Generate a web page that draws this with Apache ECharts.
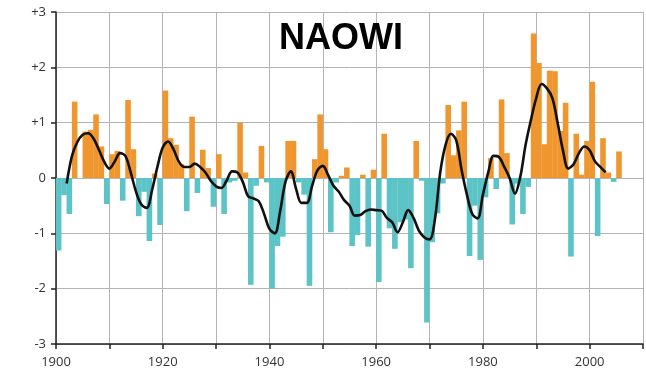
<!DOCTYPE html>
<html>
<head>
<meta charset="utf-8">
<script src="https://cdn.jsdelivr.net/npm/echarts@6/dist/echarts.min.js"></script>
<style>
    html, body {margin: 0; padding: 0; background: #fff;}
    #chart {width: 646px; height: 378px;}
</style>
</head>
<body>
<div id="chart"></div>
<script>
// winter NAO index, one bar per year from 1900
var firstYear = 1900;
var naoValues = [
    -1.31, -0.31, -0.65, 1.38, 0.0, 0.84, 0.87, 1.15, 0.57, -0.47,
    0.43, 0.49, -0.41, 1.41, 0.52, -0.69, -0.25, -1.14, 0.08, -0.85,
    1.58, 0.72, 0.6, 0.25, -0.6, 1.11, -0.27, 0.51, 0.18, -0.52,
    0.43, -0.65, -0.08, -0.05, 1.0, 0.1, -1.93, -0.14, 0.58, -0.08,
    -2.0, -1.23, -1.06, 0.67, 0.67, -0.08, -0.3, -1.95, 0.34, 1.15,
    0.52, -0.98, -0.08, 0.04, 0.19, -1.23, -1.03, 0.06, -1.24, 0.15,
    -1.88, 0.8, -0.91, -1.28, -0.8, -0.75, -1.63, 0.67, -0.05, -2.61,
    -1.16, -0.64, -0.1, 1.32, 0.41, 0.86, 1.38, -1.41, -0.5, -1.48,
    -0.35, 0.36, -0.2, 1.42, 0.45, -0.84, -0.1, -0.65, -0.16, 2.61,
    2.08, 0.61, 1.94, 1.93, 0.85, 1.36, -1.42, 0.8, 0.06, 0.67,
    1.74, -1.05, 0.72, 0.1, -0.07, 0.48
];
// smoothed curve, starts 1902
var smoothStart = 1902;
var smoothValues = [
    -0.1, 0.4, 0.65, 0.78, 0.81, 0.72, 0.52, 0.3,
    0.17, 0.3, 0.45, 0.4, 0.1, -0.25, -0.48, -0.54, -0.22, 0.2,
    0.55, 0.66, 0.52, 0.3, 0.2, 0.2, 0.26, 0.2, 0.1, -0.05,
    -0.15, -0.18, -0.04, 0.12, 0.1, -0.07, -0.33, -0.37, -0.42, -0.65,
    -0.92, -1.0, -0.6, -0.07, 0.12, -0.2, -0.45, -0.45, -0.14, 0.14,
    0.22, 0.05, -0.14, -0.25, -0.4, -0.5, -0.68, -0.67, -0.6, -0.57,
    -0.58, -0.59, -0.72, -0.8, -0.98, -0.8, -0.58, -0.72, -0.95, -1.07,
    -1.11, -0.75, 0.1, 0.6, 0.8, 0.68, 0.15, -0.3, -0.65, -0.73,
    -0.3, 0.1, 0.4, 0.38, 0.2, 0.0, -0.28, 0.02, 0.6, 1.05,
    1.45, 1.7, 1.62, 1.45, 1.0, 0.5, 0.17, 0.25, 0.45, 0.57,
    0.5, 0.3, 0.2, 0.1
];
var yTicks = ['-3', '-2', '-1', '0', '+1', '+2', '+3'];

var orange = '#f0962f';
var teal = '#5cc4c6';

// bar of a year fills [year, year+1]
var barData = naoValues.map(function (v, i) {
    return {
        value: [firstYear + i + 0.5, v],
        itemStyle: {color: v >= 0 ? orange : teal}
    };
});
var lineData = smoothValues.map(function (v, i) {
    return [smoothStart + i, v];
});

var chart = echarts.init(document.getElementById('chart'));
var option = {
    animation: false,
    title: {
        text: 'NAOWI',
        left: 341,
        top: 21,
        textAlign: 'center',
        padding: 0,
        textStyle: {
            color: '#000',
            fontSize: 36,
            fontWeight: 'bold',
            fontFamily: 'Liberation Sans'
        }
    },
    grid: {left: 56, right: -20, top: 12, bottom: 34},
    xAxis: {
        type: 'value',
        min: 1900,
        max: 2010,
        interval: 10,
        axisLine: {onZero: false, lineStyle: {color: '#222', width: 1.5}},
        axisTick: {length: 5, lineStyle: {color: '#222', width: 1.5}},
        axisLabel: {
            margin: 12,
            color: '#333',
            fontSize: 13,
            fontFamily: 'Open Sans',
            formatter: function (v) {
                return v % 20 === 0 ? String(v) : '';
            }
        },
        splitLine: {show: true, lineStyle: {color: '#b4b4b4', width: 1}}
    },
    yAxis: {
        type: 'value',
        min: -3,
        max: 3,
        interval: 1,
        axisLine: {show: true, onZero: false, lineStyle: {color: '#222', width: 1.5}},
        axisTick: {show: true, length: 5, lineStyle: {color: '#222', width: 1.5}},
        axisLabel: {
            margin: 10,
            color: '#333',
            fontSize: 13,
            fontFamily: 'Open Sans',
            formatter: function (v) {
                return yTicks[v + 3];
            }
        },
        splitLine: {show: true, lineStyle: {color: '#b4b4b4', width: 1}}
    },
    series: [
        {
            name: 'NAO',
            type: 'bar',
            barWidth: 5.6,
            data: barData
        },
        {
            name: 'smoothed',
            type: 'line',
            smooth: 0.35,
            showSymbol: false,
            lineStyle: {color: '#111', width: 2.6},
            z: 5,
            data: lineData
        }
    ]
};
chart.setOption(option);
</script>
</body>
</html>
